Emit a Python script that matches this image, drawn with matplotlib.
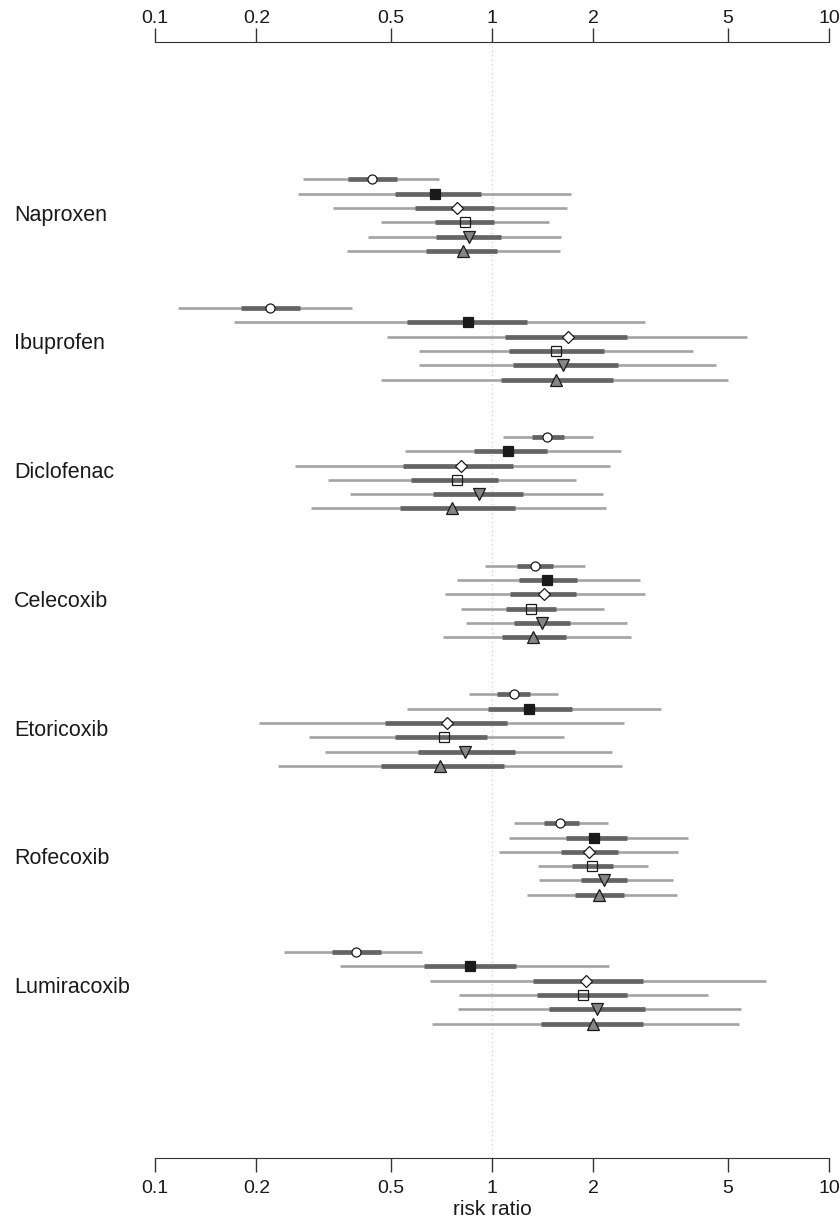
import matplotlib
matplotlib.use("Agg")
import matplotlib.pyplot as plt
import matplotlib.transforms as mtransforms

plt.rcParams['font.family'] = ['Liberation Sans', 'DejaVu Sans']

drugs = ['Naproxen', 'Ibuprofen', 'Diclofenac', 'Celecoxib',
         'Etoricoxib', 'Rofecoxib', 'Lumiracoxib']

# per drug: six estimates (circle, filled square, diamond, open square,
# down triangle, up triangle)
est = [
    [0.440, 0.679, 0.787, 0.832, 0.856, 0.819],
    [0.220, 0.848, 1.683, 1.553, 1.626, 1.544],
    [1.453, 1.118, 0.811, 0.787, 0.913, 0.762],
    [1.339, 1.453, 1.427, 1.305, 1.410, 1.323],
    [1.160, 1.285, 0.737, 0.720, 0.834, 0.700],
    [1.595, 2.008, 1.940, 1.977, 2.150, 2.080],
    [0.394, 0.858, 1.900, 1.856, 2.050, 1.996],
]
# outer interval (light line)
lo95 = [
    [0.274, 0.265, 0.337, 0.469, 0.430, 0.371],
    [0.117, 0.172, 0.488, 0.606, 0.606, 0.469],
    [1.080, 0.553, 0.260, 0.327, 0.379, 0.291],
    [0.955, 0.786, 0.727, 0.807, 0.837, 0.715],
    [0.856, 0.558, 0.204, 0.286, 0.320, 0.231],
    [1.165, 1.126, 1.047, 1.369, 1.375, 1.268],
    [0.242, 0.353, 0.653, 0.800, 0.792, 0.663],
]
hi95 = [
    [0.695, 1.712, 1.673, 1.476, 1.602, 1.591],
    [0.384, 2.835, 5.730, 3.940, 4.630, 5.010],
    [2.000, 2.410, 2.235, 1.771, 2.134, 2.180],
    [1.888, 2.755, 2.840, 2.155, 2.510, 2.585],
    [1.566, 3.170, 2.470, 1.639, 2.270, 2.430],
    [2.210, 3.810, 3.570, 2.910, 3.440, 3.540],
    [0.619, 2.220, 6.520, 4.380, 5.470, 5.420],
]
# inner interval (dark line)
lo50 = [
    [0.374, 0.516, 0.591, 0.679, 0.680, 0.638],
    [0.180, 0.560, 1.093, 1.120, 1.151, 1.064],
    [1.311, 0.886, 0.545, 0.576, 0.669, 0.534],
    [1.189, 1.205, 1.133, 1.103, 1.165, 1.071],
    [1.037, 0.975, 0.480, 0.514, 0.603, 0.469],
    [1.423, 1.655, 1.599, 1.730, 1.836, 1.763],
    [0.335, 0.630, 1.325, 1.361, 1.475, 1.395],
]
hi50 = [
    [0.523, 0.928, 1.014, 1.014, 1.066, 1.037],
    [0.269, 1.272, 2.520, 2.150, 2.360, 2.280],
    [1.635, 1.453, 1.157, 1.044, 1.239, 1.170],
    [1.520, 1.791, 1.771, 1.549, 1.704, 1.658],
    [1.297, 1.730, 1.106, 0.968, 1.168, 1.083],
    [1.808, 2.510, 2.370, 2.280, 2.510, 2.470],
    [0.467, 1.181, 2.810, 2.520, 2.840, 2.810],
]

ticks = [0.1, 0.2, 0.5, 1, 2, 5, 10]
tick_labels = ['0.1', '0.2', '0.5', '1', '2', '5', '10']

markers = ['o', 's', 'D', 's', 'v', '^']
faces = ['white', '#1a1a1a', 'white', 'none', '#858585', '#858585']
msizes = [6.5, 6.5, 6.5, 6.5, 8.5, 8.5]

fig = plt.figure(figsize=(8.4, 12.19), dpi=100)
ax = fig.add_axes([155 / 840, 1 - 1158 / 1219, (829 - 155) / 840, (1158 - 42) / 1219])

ax.axvline(1, color='#c8c8c8', lw=0.8, ls=(0, (1, 3)), zorder=0)

for g in range(len(drugs)):
    for j in range(6):
        y = g * 9 + j
        ax.plot([lo95[g][j], hi95[g][j]], [y, y], color='#a3a3a3', lw=1.9,
                solid_capstyle='butt', zorder=1)
        ax.plot([lo50[g][j], hi50[g][j]], [y, y], color='#646464', lw=3.4,
                solid_capstyle='butt', zorder=2)
        ax.plot(est[g][j], y, marker=markers[j], ms=msizes[j],
                mfc=faces[j], mec='#1a1a1a', mew=0.9, zorder=3)

trans = mtransforms.blended_transform_factory(fig.transFigure, ax.transData)
for g, name in enumerate(drugs):
    ax.text(14 / 840, g * 9 + 2.5, name, transform=trans, ha='left',
            va='center', fontsize=15.5, color='#1a1a1a')

ax.set_xscale('log')
ax.set_xlim(0.1, 10)
ax.set_ylim(68.4, -9.6)
ax.minorticks_off()
ax.set_xticks(ticks)
ax.set_xticklabels(tick_labels)
ax.set_yticks([])
for s in ['left', 'right', 'top']:
    ax.spines[s].set_visible(False)
ax.spines['bottom'].set_color('#333333')
ax.tick_params(axis='x', which='both', direction='out', length=10, width=1.0,
               color='#333333', labelsize=14, pad=6, labelcolor='#1a1a1a')
ax.set_xlabel('risk ratio', fontsize=15, color='#1a1a1a', labelpad=2)

# top axis, a copy of the bottom one
ax2 = ax.twiny()
ax2.set_xscale('log')
ax2.set_xlim(0.1, 10)
ax2.minorticks_off()
ax2.set_xticks(ticks)
ax2.set_xticklabels(tick_labels)
for s in ['left', 'right', 'bottom']:
    ax2.spines[s].set_visible(False)
ax2.spines['top'].set_color('#333333')
ax2.tick_params(axis='x', which='both', direction='out', length=10, width=1.0,
                color='#333333', labelsize=14, pad=0.5, labelcolor='#1a1a1a')

fig.savefig('out.png', dpi=100)
